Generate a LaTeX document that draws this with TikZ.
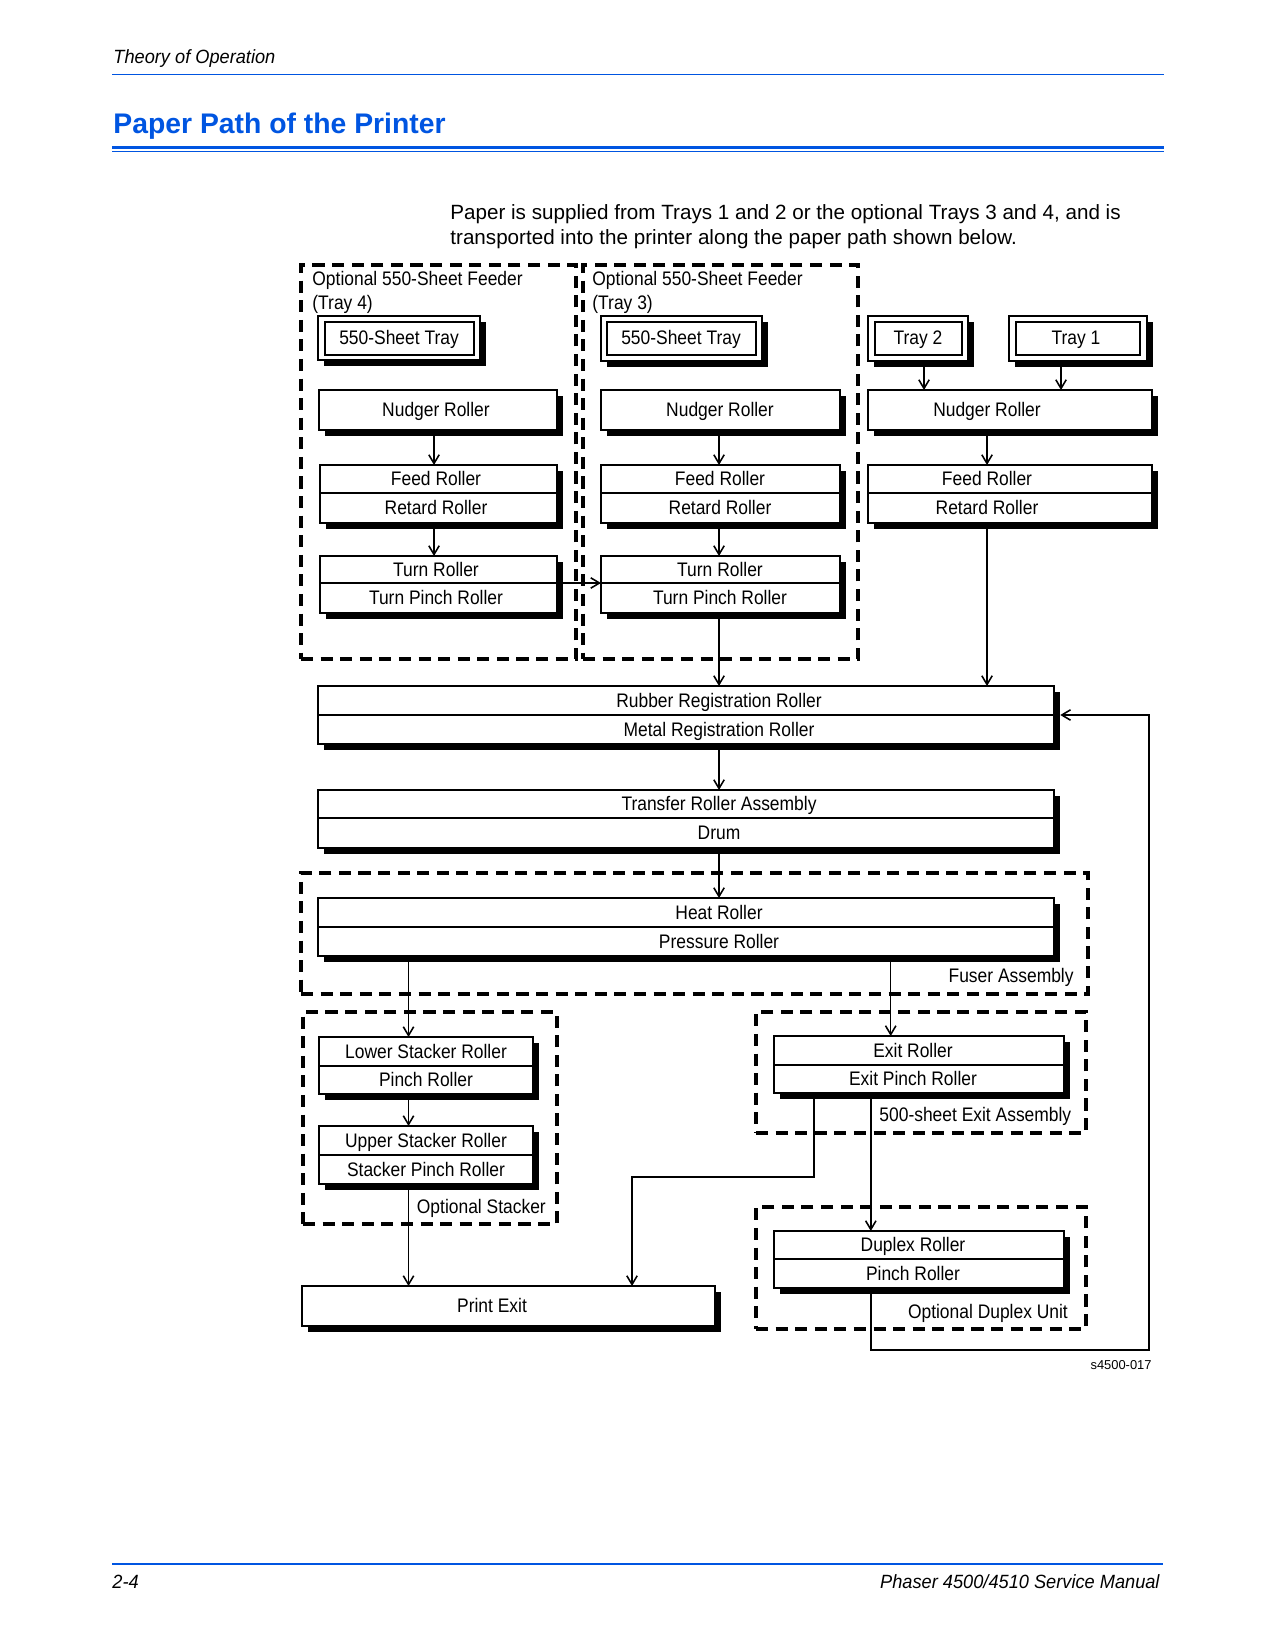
\documentclass[tikz,border=0pt]{standalone}
\usepackage{fontspec}
\setmainfont{Liberation Sans}
\newfontfamily\dgfont[FakeStretch=0.89]{Liberation Sans}
\newfontfamily\hdfont[FakeStretch=0.95]{Liberation Sans}
\usetikzlibrary{arrows.meta,fit,shadows}
\definecolor{xblue}{RGB}{0,85,225}
\begin{document}
\begin{tikzpicture}[x=0.48pt,y=-0.48pt,
  box/.style={draw=black, line width=0.9pt, fill=white, inner sep=0pt, outer sep=0pt,
    general shadow={fill=black, shadow xshift=3pt, shadow yshift=-3pt}},
  inbox/.style={draw=black, line width=0.55pt, inner sep=0pt, outer sep=0pt},
  grp/.style={draw=black, line width=1.9pt, dash pattern=on 5.8pt off 3.6pt, inner sep=0pt, outer sep=0pt},
  lbl/.style={font=\dgfont\fontsize{9.4}{11}\selectfont, inner sep=0pt, anchor=base},
  divl/.style={line width=0.9pt},
  conn/.style={line width=0.75pt},
  arr/.style={conn, -{Straight Barb[length=4.2pt,width=5pt]}},
  hdr/.style={font=\hdfont\itshape\fontsize{9.2}{11}\selectfont, inner sep=0pt}]
\useasboundingbox (0,0) rectangle (1275,1650);

% ---------- page header / footer ----------
\node[hdr, anchor=base west] (hdrtxt) at (113,63.3) {Theory of Operation};
\draw[xblue, line width=0.85pt] (112,74.5) -- (1164,74.5);
\node[font=\bfseries\fontsize{13.6}{16}\selectfont, text=xblue, anchor=base west, inner sep=0pt] (title) at (113,134) {Paper Path of the Printer};
\fill[xblue] (112,146) rectangle (1164,149.3);
\draw[xblue, line width=0.5pt] (112,151.6) -- (1164,151.6);
\node[font=\fontsize{9.9}{12}\selectfont, anchor=base west, inner sep=0pt] (body1) at (450,219.8) {Paper is supplied from Trays 1 and 2 or the optional Trays 3 and 4, and is};
\node[font=\fontsize{9.9}{12}\selectfont, anchor=base west, inner sep=0pt] (body2) at (450,244.8) {transported into the printer along the paper path shown below.};
\draw[xblue, line width=0.85pt] (112,1564) -- (1163,1564);
\node[hdr, anchor=base west] (pgno) at (112,1588) {2-4};
\node[hdr, anchor=base east] (manual) at (1160,1588) {Phaser 4500/4510 Service Manual};
\node[font=\fontsize{6.2}{7}\selectfont, anchor=base east, inner sep=0pt] (fig) at (1152,1369) {s4500-017};

% ---------- dashed groups ----------
\node[grp, fit={(301,265)(576,659)}] (g4) {};
\node[grp, fit={(583,265)(858,659)}] (g3) {};
\node[grp, fit={(301,873)(1088,994)}] (gfuse) {};
\node[grp, fit={(303,1012)(557,1224)}] (gstack) {};
\node[grp, fit={(756,1012)(1086,1133)}] (gexit) {};
\node[grp, fit={(756,1207)(1086,1329)}] (gdup) {};

\node[lbl, anchor=base west] (g4a) at (312,285.7) {Optional 550-Sheet Feeder};
\node[lbl, anchor=base west] (g4b) at (312,310) {(Tray 4)};
\node[lbl, anchor=base west] (g3a) at (592,285.7) {Optional 550-Sheet Feeder};
\node[lbl, anchor=base west] (g3b) at (592,310) {(Tray 3)};
\node[lbl, anchor=base east] (gfl) at (1074,982) {Fuser Assembly};
\node[lbl, anchor=base west] (gsl) at (416.5,1213) {Optional Stacker};
\node[lbl, anchor=base west] (gel) at (879,1121) {500-sheet Exit Assembly};
\node[lbl, anchor=base west] (gdl) at (907.6,1318) {Optional Duplex Unit};

% ---------- trays ----------
\node[box, fit={(318,316)(480,360)}] (t4) {};
\node[inbox, fit={(325,322)(474,355)}] (t4i) {};
\node[lbl] (t4t) at (399,344.7) {550-Sheet Tray};
\node[box, fit={(601,316)(762,361)}] (t3) {};
\node[inbox, fit={(607,322)(756,355)}] (t3i) {};
\node[lbl] (t3t) at (681,344.7) {550-Sheet Tray};
\node[box, fit={(868,316)(968,361)}] (t2) {};
\node[inbox, fit={(875,322)(962,355)}] (t2i) {};
\node[lbl] (t2t) at (918,344.7) {Tray 2};
\node[box, fit={(1009,316)(1147,361)}] (t1) {};
\node[inbox, fit={(1016,322)(1140,355)}] (t1i) {};
\node[lbl] (t1t) at (1076,344.7) {Tray 1};

% ---------- tray 4 column ----------
\node[box, fit={(319,390)(557,430)}] (n4) {};
\node[lbl] (n4t) at (436,416.7) {Nudger Roller};
\node[box, fit={(320,465)(557,523)}] (f4) {};
\draw[divl] (320,493) -- (557,493);
\node[lbl] (f4a) at (436,485.7) {Feed Roller};
\node[lbl] (f4b) at (436,514.7) {Retard Roller};
\node[box, fit={(320,556)(557,613)}] (u4) {};
\draw[divl] (320,583) -- (557,583);
\node[lbl] (u4a) at (436,576.2) {Turn Roller};
\node[lbl] (u4b) at (436,604.7) {Turn Pinch Roller};

% ---------- tray 3 column ----------
\node[box, fit={(601,390)(840,430)}] (n3) {};
\node[lbl] (n3t) at (720,416.7) {Nudger Roller};
\node[box, fit={(601,465)(840,523)}] (f3) {};
\draw[divl] (601,493) -- (840,493);
\node[lbl] (f3a) at (720,485.7) {Feed Roller};
\node[lbl] (f3b) at (720,514.7) {Retard Roller};
\node[box, fit={(601,556)(840,613)}] (u3) {};
\draw[divl] (601,583) -- (840,583);
\node[lbl] (u3a) at (720,576.2) {Turn Roller};
\node[lbl] (u3b) at (720,604.7) {Turn Pinch Roller};

% ---------- trays 1/2 column ----------
\node[box, fit={(868,390)(1152,430)}] (n12) {};
\node[lbl] (n12t) at (987,416.7) {Nudger Roller};
\node[box, fit={(868,465)(1152,523)}] (f12) {};
\draw[divl] (868,493) -- (1152,493);
\node[lbl] (f12a) at (987,485.7) {Feed Roller};
\node[lbl] (f12b) at (987,514.7) {Retard Roller};

% ---------- main path ----------
\node[box, fit={(318,686)(1054,744)}] (reg) {};
\draw[divl] (318,715) -- (1054,715);
\node[lbl] (rega) at (719,707.2) {Rubber Registration Roller};
\node[lbl] (regb) at (719,736.2) {Metal Registration Roller};
\node[box, fit={(318,790)(1054,848)}] (xfer) {};
\draw[divl] (318,818) -- (1054,818);
\node[lbl] (xfera) at (719,810.7) {Transfer Roller Assembly};
\node[lbl] (xferb) at (719,839.7) {Drum};
\node[box, fit={(318,898)(1054,956)}] (heat) {};
\draw[divl] (318,927) -- (1054,927);
\node[lbl] (heata) at (719,919.2) {Heat Roller};
\node[lbl] (heatb) at (719,948.2) {Pressure Roller};

\node[box, fit={(319,1037)(533,1094)}] (lower) {};
\draw[divl] (319,1066) -- (533,1066);
\node[lbl] (lowa) at (426,1058.2) {Lower Stacker Roller};
\node[lbl] (lowb) at (426,1086.7) {Pinch Roller};
\node[box, fit={(319,1126)(533,1184)}] (upper) {};
\draw[divl] (319,1155) -- (533,1155);
\node[lbl] (upa) at (426,1147.2) {Upper Stacker Roller};
\node[lbl] (upb) at (426,1176.2) {Stacker Pinch Roller};
\node[box, fit={(302,1286)(715,1326)}] (pexit) {};
\node[lbl] (pext) at (492,1312.7) {Print Exit};

\node[box, fit={(774,1036)(1064,1093)}] (exit) {};
\draw[divl] (774,1065) -- (1064,1065);
\node[lbl] (exita) at (913,1057.2) {Exit Roller};
\node[lbl] (exitb) at (913,1085.7) {Exit Pinch Roller};
\node[box, fit={(774,1231)(1064,1288)}] (dup) {};
\draw[divl] (774,1259) -- (1064,1259);
\node[lbl] (dupa) at (913,1251.7) {Duplex Roller};
\node[lbl] (dupb) at (913,1280.2) {Pinch Roller};

% ---------- connector helpers ----------
\coordinate (xa) at (434,0);
\coordinate (xb) at (719,0);
\coordinate (xc) at (987,0);
\coordinate (xt2) at (924,0);
\coordinate (xt1) at (1061,0);
\coordinate (xs) at (408.5,0);
\coordinate (xe) at (890.7,0);
\coordinate (xd) at (870.8,0);
\coordinate (xp) at (632,0);
\coordinate (xq) at (814,0);
\coordinate (xr) at (1149,0);
\coordinate (yj) at (0,1177);
\coordinate (yk) at (0,1350);
\coordinate (yt) at (0,583);
\coordinate (yreg) at (0,715);
\coordinate (regR) at ([xshift=3pt]reg.east);

% ---------- connectors ----------
\draw[arr] (n4.south -| xa) -- (f4.north -| xa);
\draw[arr] (f4.south -| xa) -- (u4.north -| xa);
\draw[arr] (u4.east |- yt) -- (u3.west |- yt);
\draw[arr] (n3.south -| xb) -- (f3.north -| xb);
\draw[arr] (f3.south -| xb) -- (u3.north -| xb);
\draw[arr] (u3.south -| xb) -- (reg.north -| xb);
\draw[arr] (t2.south -| xt2) -- (n12.north -| xt2);
\draw[arr] (t1.south -| xt1) -- (n12.north -| xt1);
\draw[arr] (n12.south -| xc) -- (f12.north -| xc);
\draw[arr] (f12.south -| xc) -- (reg.north -| xc);
\draw[arr] (reg.south -| xb) -- (xfer.north -| xb);
\draw[arr] (xfer.south -| xb) -- (heat.north -| xb);
\draw[arr] (heat.south -| xs) -- (lower.north -| xs);
\draw[arr] (heat.south -| xe) -- (exit.north -| xe);
\draw[arr] (lower.south -| xs) -- (upper.north -| xs);
\draw[arr] (upper.south -| xs) -- (pexit.north -| xs);
\draw[arr] (exit.south -| xq) -- (xq |- yj) -- (xp |- yj) -- (pexit.north -| xp);
\draw[arr] (exit.south -| xd) -- (dup.north -| xd);
\draw[arr] (dup.south -| xd) -- (xd |- yk) -- (xr |- yk) -- (xr |- yreg) -- (regR |- yreg);
\end{tikzpicture}
\end{document}
